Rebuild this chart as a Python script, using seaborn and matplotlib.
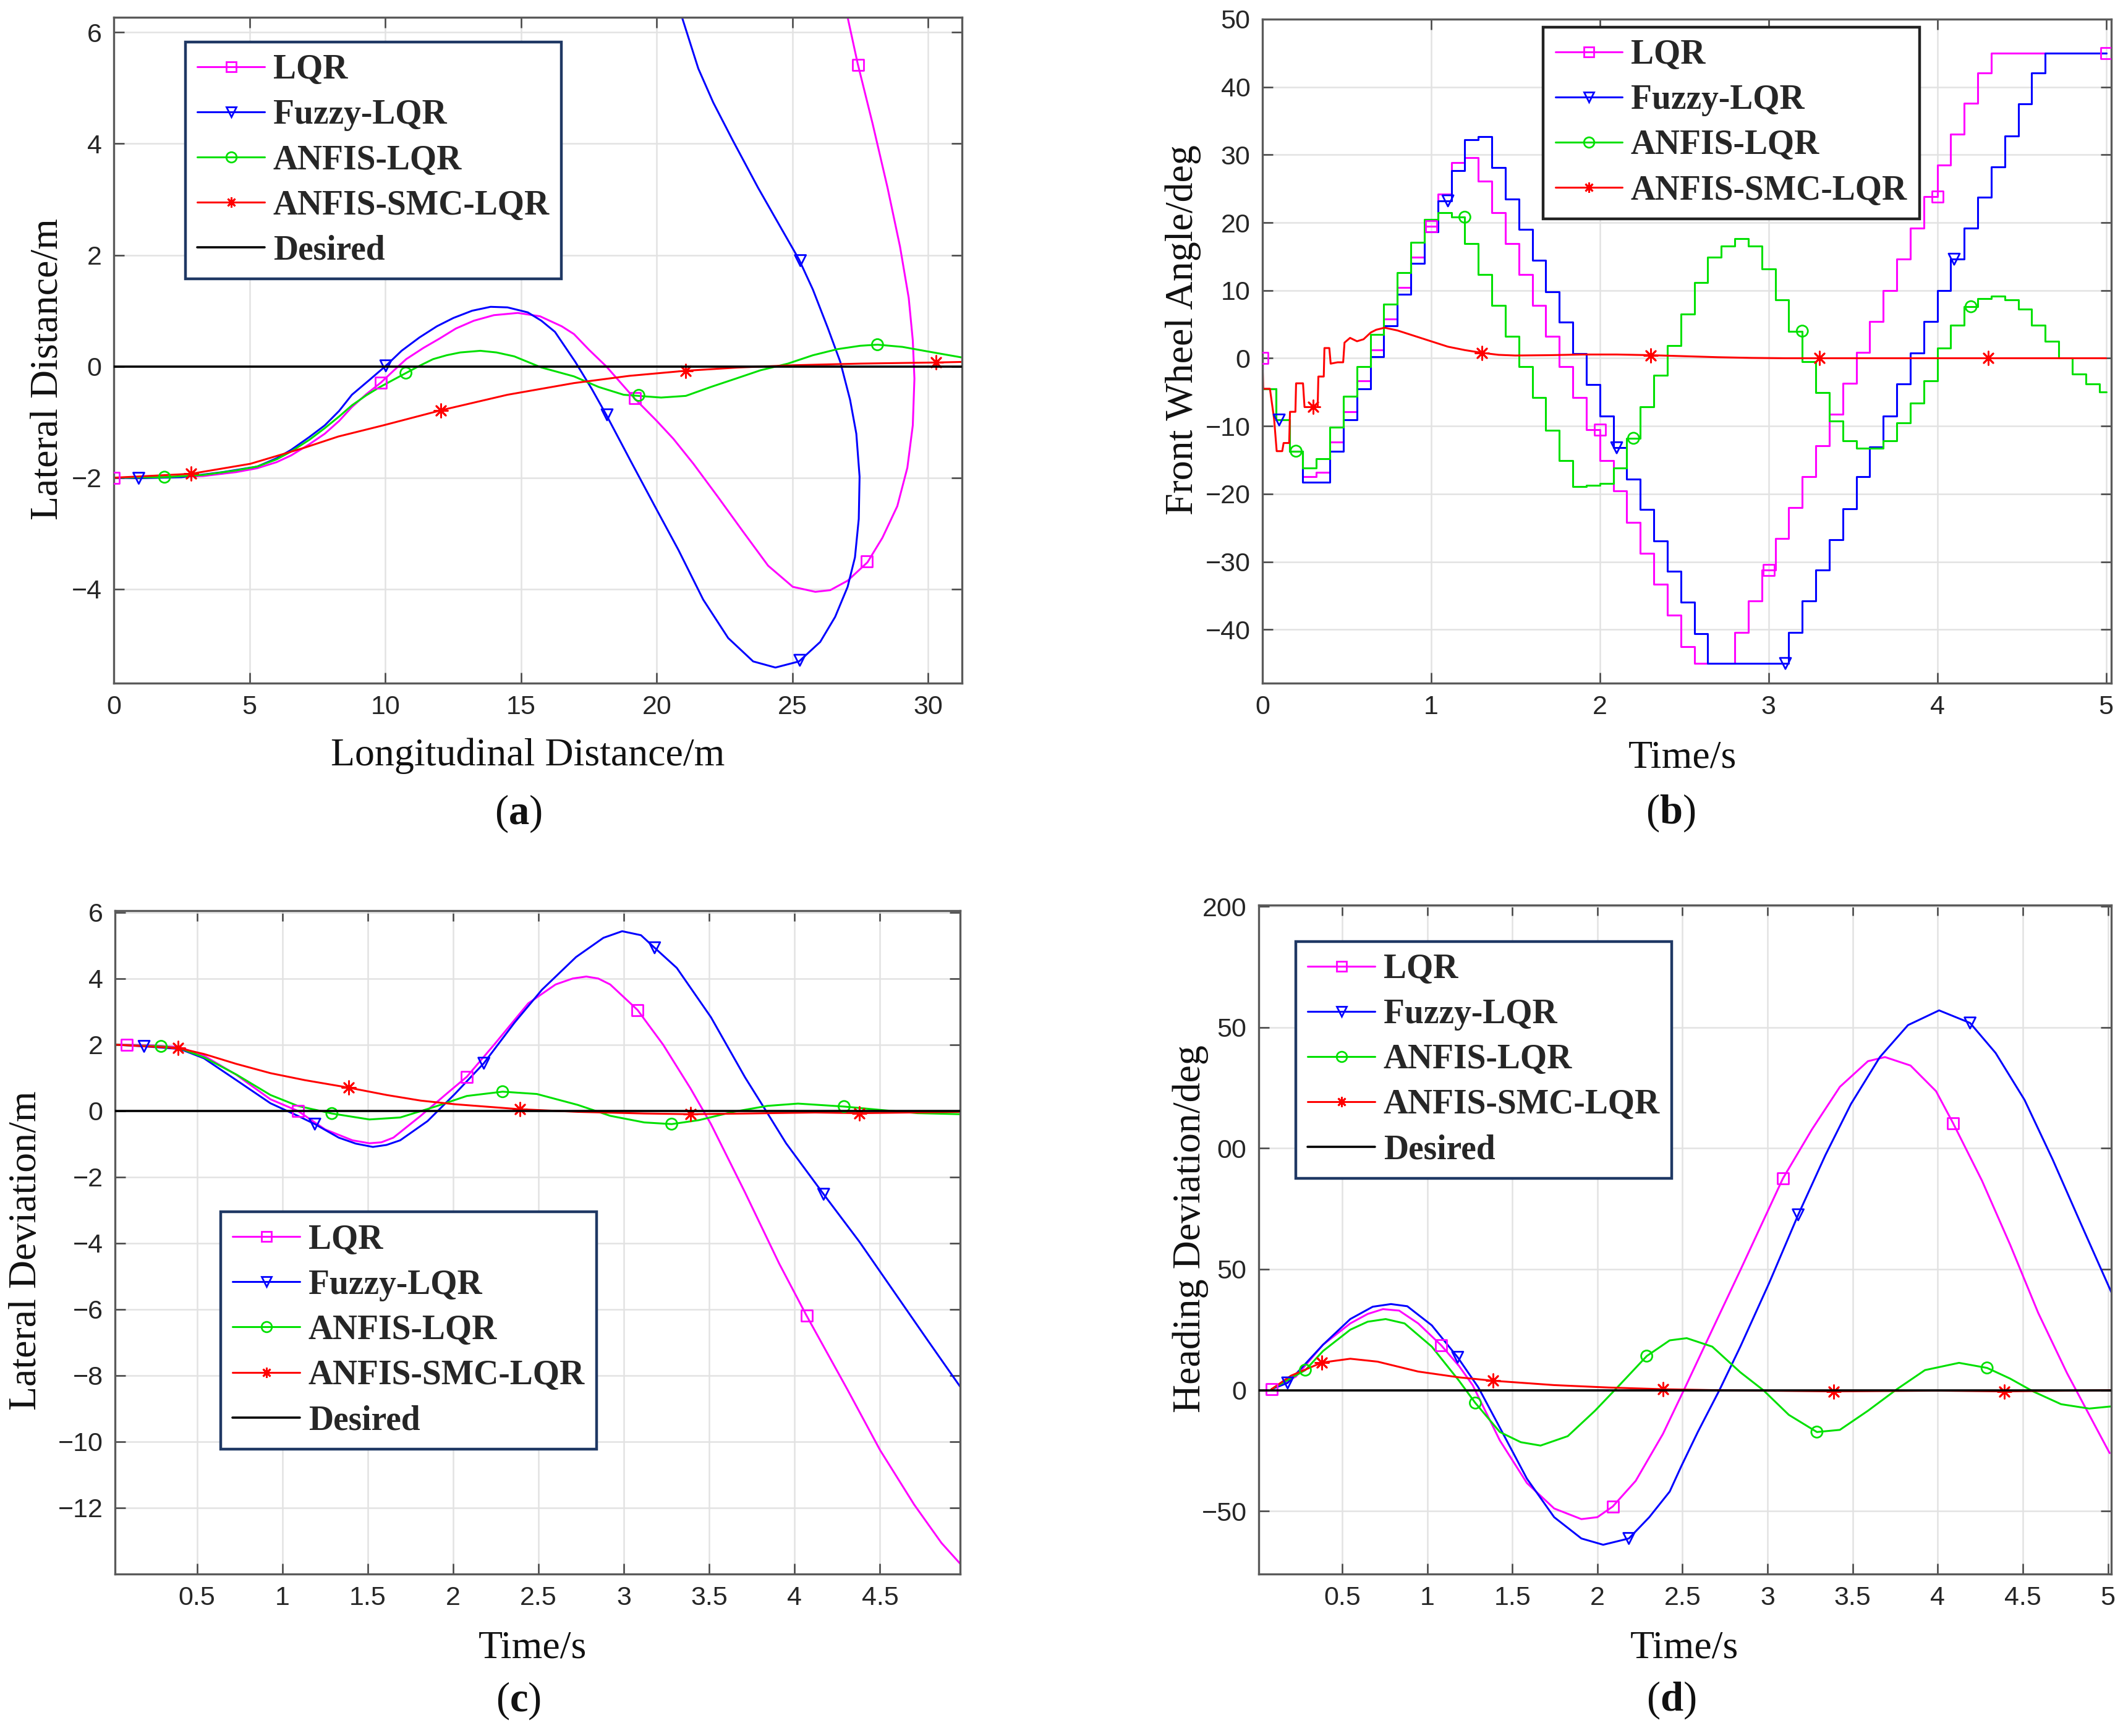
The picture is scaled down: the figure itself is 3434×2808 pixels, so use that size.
import matplotlib
matplotlib.use('Agg')
import matplotlib.pyplot as plt
from matplotlib.lines import Line2D
from matplotlib.ticker import FuncFormatter
import seaborn as sns

# ---------------- data ----------------
names = ['LQR', 'Fuzzy-LQR', 'ANFIS-LQR', 'ANFIS-SMC-LQR', 'Desired']

# (a) lateral vs longitudinal distance
a_lqr_x = [0, 2, 3.29, 4.5, 5.28, 6.0, 6.53, 7.2, 7.77, 8.3, 8.77, 9.3, 9.84, 10.3, 10.77, 11.4, 12.0, 12.6,
           13.26, 14.0, 14.88, 15.7, 16.5, 16.95, 17.5, 18.14, 19.15, 20.0, 20.61, 21.35, 22.26, 23.18, 24.1,
           25.01, 25.84, 26.39, 27.03, 27.76, 28.31, 28.86, 29.23, 29.43, 29.49, 29.43, 29.28, 28.96, 28.5,
           27.95, 27.4, 27.03]
a_lqr_y = [-2.0, -1.99, -1.97, -1.9, -1.83, -1.72, -1.6, -1.4, -1.21, -0.98, -0.73, -0.5, -0.29, -0.08, 0.13,
           0.33, 0.5, 0.68, 0.82, 0.92, 0.96, 0.9, 0.72, 0.58, 0.3, 0.0, -0.56, -0.98, -1.3, -1.75, -2.35, -2.97,
           -3.58, -3.96, -4.05, -4.02, -3.85, -3.52, -3.08, -2.51, -1.82, -1.06, -0.22, 0.47, 1.23, 2.15, 3.21,
           4.36, 5.44, 6.27]
a_fuzzy_x = [0, 0.92, 2.5, 4.0, 5.28, 6.0, 6.53, 7.2, 7.77, 8.3, 8.77, 9.4, 10.02, 10.6, 11.26, 11.9, 12.51,
             13.2, 13.88, 14.5, 15.25, 15.75, 16.25, 17.0, 17.6, 18.14, 19.06, 19.97, 20.8, 21.71, 22.63, 23.55,
             24.37, 25.24, 26.02, 26.57, 27.03, 27.3, 27.44, 27.47, 27.35, 27.12, 26.76, 26.3, 25.75, 25.24,
             24.56, 23.73, 22.81, 22.08, 21.53, 20.93]
a_fuzzy_y = [-2.0, -2.01, -1.99, -1.9, -1.8, -1.65, -1.5, -1.27, -1.06, -0.8, -0.51, -0.25, 0.01, 0.28, 0.52,
             0.72, 0.87, 1.0, 1.07, 1.06, 0.97, 0.82, 0.62, 0.08, -0.4, -0.87, -1.72, -2.55, -3.3, -4.19, -4.88,
             -5.3, -5.41, -5.3, -4.95, -4.5, -3.96, -3.43, -2.74, -1.98, -1.21, -0.6, 0.08, 0.69, 1.38, 1.92,
             2.5, 3.21, 4.05, 4.74, 5.35, 6.27]
a_anfis_x = [0, 1.87, 3.29, 4.5, 5.28, 6.0, 6.53, 7.2, 7.77, 8.3, 8.77, 9.3, 9.77, 10.3, 10.76, 11.26, 11.76,
             12.26, 12.76, 13.5, 14.1, 14.75, 15.75, 16.95, 17.86, 18.78, 19.33, 20.16, 21.07, 21.99, 22.91,
             23.82, 24.83, 25.75, 26.66, 27.49, 28.13, 29.05, 29.96, 31.24]
a_anfis_y = [-2.0, -1.99, -1.95, -1.87, -1.8, -1.67, -1.53, -1.32, -1.11, -0.9, -0.7, -0.52, -0.38, -0.24,
             -0.12, 0.01, 0.13, 0.2, 0.25, 0.28, 0.25, 0.18, -0.02, -0.18, -0.37, -0.51, -0.53, -0.56, -0.53,
             -0.37, -0.22, -0.07, 0.05, 0.2, 0.31, 0.37, 0.39, 0.35, 0.27, 0.16]
a_smc_x = [0, 2.84, 5.03, 7.03, 8.27, 9.92, 12.04, 14.5, 16.95, 18.99, 21.03, 23.0, 25.01, 27.5, 30.28, 31.24]
a_smc_y = [-2.0, -1.93, -1.75, -1.46, -1.26, -1.06, -0.79, -0.51, -0.3, -0.17, -0.08, -0.02, 0.02, 0.05, 0.07, 0.08]
a_mark_lqr = ([0, 9.84, 19.19, 27.73, 27.41], [-2.0, -0.29, -0.57, -3.5, 5.42])
a_mark_fuzzy = ([0.92, 10.02, 18.17, 25.27, 25.29], [-2.01, 0.01, -0.87, -5.28, 1.9])
a_mark_anfis = ([1.87, 10.76, 19.34, 28.13], [-1.99, -0.12, -0.52, 0.39])
a_mark_smc = ([2.84, 12.04, 21.06, 30.28], [-1.93, -0.79, -0.08, 0.07])

# (b) front wheel angle, zero-order hold every 0.08 s
b_t = [0.0, 0.08, 0.16, 0.24, 0.32, 0.4, 0.48, 0.56, 0.64, 0.72, 0.8, 0.88, 0.96, 1.04, 1.12, 1.2,
       1.28, 1.36, 1.44, 1.52, 1.6, 1.68, 1.76, 1.84, 1.92, 2.0, 2.08, 2.16, 2.24, 2.32, 2.4, 2.48,
       2.56, 2.64, 2.72, 2.8, 2.88, 2.96, 3.04, 3.12, 3.2, 3.28, 3.36, 3.44, 3.52, 3.6, 3.68, 3.76,
       3.84, 3.92, 4.0, 4.08, 4.16, 4.24, 4.32, 4.4, 4.48, 4.56, 4.64, 4.72, 4.8, 4.88, 4.96, 5.0]
b_lqr = [0, -4.5, -9.1, -13.7, -17.5, -16.8, -12.4, -7.9, -3.3, 1.2, 5.8, 10.4, 14.9, 19.5, 24.2, 28.8,
         29.6, 26.1, 21.5, 16.9, 12.3, 7.8, 3.2, -1.2, -5.8, -10.5, -15.1, -19.6, -24.2, -28.8, -33.3, -37.9,
         -42.5, -45, -45, -45, -40.4, -35.8, -31.2, -26.6, -22.0, -17.5, -12.9, -8.3, -3.7, 0.9, 5.4, 10.0,
         14.6, 19.2, 23.8, 28.5, 33.0, 37.6, 42.1, 45, 45, 45, 45, 45, 45, 45, 45, 45]
b_fuzzy = [0, -4.5, -9.1, -13.7, -18.3, -18.3, -13.7, -9.1, -4.5, 0.2, 4.8, 9.4, 14.0, 18.6, 23.2, 27.7,
           32.2, 32.7, 28.1, 23.5, 19.0, 14.4, 9.8, 5.3, 0.7, -3.9, -8.5, -13.2, -17.8, -22.3, -26.9, -31.4,
           -36.0, -40.6, -45, -45, -45, -45, -45, -45, -40.4, -35.8, -31.2, -26.8, -22.2, -17.5, -13.1, -8.5,
           -3.8, 0.8, 5.4, 10.0, 14.6, 19.2, 23.7, 28.2, 32.8, 37.5, 42.1, 45, 45, 45, 45, 45]
b_anfis = [0, -4.5, -9.1, -13.7, -16.2, -14.8, -10.2, -5.6, -1.2, 3.5, 8.0, 12.6, 17.1, 20.5, 21.5, 20.8,
           16.9, 12.3, 7.8, 3.2, -1.2, -5.8, -10.6, -15.1, -18.9, -18.7, -18.5, -16.2, -11.8, -7.2, -2.5, 1.9,
           6.5, 11.2, 14.9, 16.5, 17.6, 16.5, 13.2, 8.6, 4.0, -0.5, -5.1, -9.3, -12.2, -13.3, -13.3, -12.2,
           -9.5, -6.6, -3.3, 1.5, 4.9, 7.6, 8.8, 9.2, 8.6, 7.2, 4.9, 2.5, 0.0, -2.3, -3.8, -5.0]
b_smc_t = [0, 0.005, 0.045, 0.07, 0.085, 0.118, 0.126, 0.159, 0.164, 0.196, 0.2, 0.241, 0.25, 0.328,
           0.332, 0.364, 0.368, 0.397, 0.405, 0.446, 0.479, 0.487, 0.52, 0.561, 0.60, 0.643, 0.675, 0.725,
           0.8, 0.9, 1.0, 1.1, 1.2, 1.3, 1.4, 1.5, 1.7, 1.9, 2.1, 2.3, 2.5, 2.7, 2.9, 3.1, 4.0, 5.0]
b_smc = [0, -4.5, -4.5, -9.0, -13.7, -13.7, -12.5, -12.5, -7.9, -7.9, -3.7, -3.7, -7.2, -7.2,
         -2.7, -2.7, 1.5, 1.5, -0.8, -0.6, -0.6, 2.3, 3.0, 2.5, 2.8, 3.8, 4.2, 4.5,
         4.1, 3.3, 2.5, 1.7, 1.2, 0.8, 0.5, 0.4, 0.45, 0.55, 0.55, 0.45, 0.3, 0.15, 0.05, 0.0, 0.0, 0.0]
b_mark_lqr = ([0, 1, 2, 3, 4, 5], [0, 19.5, -10.5, -31.2, 23.8, 45])
b_mark_fuzzy = ([0.1, 1.1, 2.1, 3.1, 4.1], [-9.1, 23.2, -13.2, -45, 14.6])
b_mark_anfis = ([0.2, 1.2, 2.2, 3.2, 4.2], [-13.7, 20.8, -11.8, 4.0, 7.6])
b_mark_smc = ([0.3, 1.3, 2.3, 3.3, 4.3], [-7.2, 0.8, 0.45, 0.0, 0.0])

# (c) lateral deviation
c_lqr_t = [0.02, 0.09, 0.25, 0.40, 0.54, 0.73, 0.93, 1.09, 1.25, 1.41, 1.51, 1.58, 1.65, 1.81, 1.96, 2.08,
           2.24, 2.44, 2.6, 2.7, 2.78, 2.85, 2.92, 3.08, 3.23, 3.39, 3.51, 3.71, 3.91, 4.07, 4.31, 4.5, 4.70,
           4.86, 4.97]
c_lqr = [2.0, 2.0, 1.98, 1.92, 1.67, 1.09, 0.35, 0.0, -0.56, -0.89, -0.98, -0.95, -0.81, -0.15, 0.51, 1.03,
         2.0, 3.25, 3.82, 4.0, 4.06, 4.0, 3.82, 3.05, 2.0, 0.68, -0.4, -2.47, -4.62, -6.19, -8.43, -10.25,
         -11.9, -13.06, -13.69]
c_fuzzy_t = [0.02, 0.19, 0.40, 0.54, 0.73, 0.93, 1.09, 1.19, 1.33, 1.43, 1.53, 1.61, 1.69, 1.85, 2.01, 2.18,
             2.36, 2.52, 2.72, 2.88, 2.99, 3.1, 3.18, 3.31, 3.51, 3.71, 3.83, 3.95, 4.17, 4.38, 4.58, 4.78, 4.97]
c_fuzzy = [2.0, 1.95, 1.87, 1.59, 0.93, 0.23, -0.15, -0.4, -0.81, -0.99, -1.09, -1.03, -0.89, -0.31, 0.51,
           1.44, 2.67, 3.66, 4.65, 5.23, 5.43, 5.31, 4.93, 4.32, 2.83, 1.01, 0.02, -0.98, -2.52, -3.96, -5.45,
           -6.94, -8.34]
c_anfis_t = [0.02, 0.29, 0.40, 0.54, 0.73, 0.93, 1.09, 1.29, 1.51, 1.69, 1.89, 2.08, 2.29, 2.49, 2.73, 2.92,
             3.12, 3.28, 3.44, 3.64, 3.84, 4.02, 4.29, 4.52, 4.72, 4.97]
c_anfis = [2.0, 1.95, 1.89, 1.62, 1.1, 0.48, 0.15, -0.08, -0.26, -0.2, 0.12, 0.45, 0.58, 0.51, 0.18, -0.15,
           -0.35, -0.4, -0.28, -0.03, 0.15, 0.22, 0.13, 0.02, -0.07, -0.1]
c_smc_t = [0.02, 0.39, 0.54, 0.73, 0.93, 1.13, 1.39, 1.61, 1.81, 2.01, 2.39, 2.73, 3.12, 3.39, 3.72, 4.12, 4.38, 4.97]
c_smc = [2.0, 1.9, 1.72, 1.42, 1.14, 0.93, 0.7, 0.48, 0.31, 0.2, 0.05, -0.03, -0.08, -0.1, -0.08, -0.05, -0.07, -0.03]
c_mark_lqr = ([0.09, 1.09, 2.08, 3.08, 4.07], [2.0, 0.0, 1.03, 3.05, -6.19])
c_mark_fuzzy = ([0.19, 1.19, 2.18, 3.18, 4.17], [1.95, -0.4, 1.44, 4.93, -2.52])
c_mark_anfis = ([0.29, 1.29, 2.29, 3.28, 4.29], [1.95, -0.08, 0.58, -0.4, 0.13])
c_mark_smc = ([0.39, 1.39, 2.39, 3.39, 4.38], [1.9, 0.7, 0.05, -0.1, -0.07])

# (d) heading deviation
d_lqr_t = [0.085, 0.228, 0.388, 0.548, 0.65, 0.74, 0.835, 0.947, 1.083, 1.187, 1.267, 1.427, 1.586, 1.746,
           1.906, 2.0, 2.09, 2.225, 2.385, 2.508, 2.675, 2.84, 3.09, 3.26, 3.425, 3.59, 3.69, 3.84, 3.99, 4.09,
           4.26, 4.425, 4.59, 4.76, 5.01]
d_lqr = [0.4, 5.6, 18.8, 27.6, 31.5, 33.5, 32.9, 27.6, 18.5, 10, 2.1, -20.8, -38.4, -48.9,
         -53.3, -52.5, -48.1, -37.5, -18.1, 0, 25, 49.6, 87.5, 107.7, 125.4, 136, 137.7, 134.2, 123.6, 110.4,
         86.6, 60.2, 32, 7, -26]
d_fuzzy_t = [0.085, 0.18, 0.388, 0.548, 0.68, 0.787, 0.883, 1.027, 1.179, 1.3, 1.427, 1.586, 1.746, 1.906,
             2.034, 2.185, 2.305, 2.425, 2.494, 2.59, 2.717, 2.84, 3.01, 3.18, 3.34, 3.49, 3.66, 3.825, 4.008,
             4.19, 4.34, 4.51, 4.675, 4.84, 5.02]
d_fuzzy = [0.4, 3.0, 18.8, 29.4, 34.5, 35.6, 34.7, 26.8, 13.6, 1.2, -15.5, -36.6, -52.5, -61.3,
           -63.9, -61.3, -52.5, -41.9, -31.3, -17.3, 0, 18, 44.4, 72.5, 97.2, 118.3, 137.7, 150.9, 157,
           151.8, 139.4, 120, 95.4, 69, 40.5]
d_anfis_t = [0.085, 0.284, 0.388, 0.548, 0.65, 0.756, 0.867, 1.027, 1.187, 1.283, 1.427, 1.55, 1.666, 1.826,
             1.986, 2.13, 2.29, 2.425, 2.525, 2.675, 2.84, 2.975, 3.125, 3.29, 3.425, 3.59, 3.76, 3.925, 4.125,
             4.29, 4.425, 4.56, 4.725, 4.89, 5.02]
d_anfis = [0.4, 8.3, 16.2, 25, 28.3, 29.4, 27.6, 18, 3.9, -5.3, -17.3, -21.5, -22.9, -19,
           -8.5, 2.1, 14.1, 20.6, 21.5, 18, 7.4, 0, -10.2, -17.3, -16.4, -8.5, 0.4, 8.3, 11.3,
           9.2, 4.8, -0.5, -5.8, -7.6, -6.7]
d_smc_t = [0.085, 0.2, 0.38, 0.548, 0.708, 0.947, 1.187, 1.387, 1.746, 2.066, 2.385, 2.7, 3.39, 4.0, 4.39, 5.02]
d_smc = [0.4, 6.0, 11.4, 13.0, 11.8, 7.7, 5.3, 3.9, 2.1, 1.1, 0.4, 0.0, -0.5, -0.2, -0.5, 0.0]
d_mark_lqr = ([0.085, 1.083, 2.09, 3.09, 4.09], [0.4, 18.5, -48.1, 87.5, 110.4])
d_mark_fuzzy = ([0.18, 1.179, 2.185, 3.18, 4.19], [3.0, 13.6, -61.3, 72.5, 151.8])
d_mark_anfis = ([0.284, 1.283, 2.29, 3.29, 4.29], [8.3, -5.3, 14.1, -17.3, 9.2])
d_mark_smc = ([0.38, 1.387, 2.385, 3.39, 4.39], [11.4, 3.9, 0.4, -0.5, -0.5])
d_ytick_labels = ['\u221250', '0', '50', '00', '50', '200']

# ---------------- style ----------------
sns.set_theme(style='ticks')
plt.rcParams['font.family'] = ['Liberation Sans', 'DejaVu Sans']
plt.rcParams['mathtext.fontset'] = 'custom'
plt.rcParams['mathtext.rm'] = 'Liberation Serif'
plt.rcParams['mathtext.bf'] = 'Liberation Serif:bold'

colors = ['#ff00ff', '#0000ff', '#00e000', '#ff0000', '#000000']
markers = ['s', 'v', 'o', (8, 2, 0), None]
LW = 1.1
SERIF = 'Liberation Serif'

fig = plt.figure(figsize=(17.17, 14.04), dpi=200)
ax_a = fig.add_axes([0.0536, 0.6065, 0.3995, 0.3835])
ax_b = fig.add_axes([0.5946, 0.6065, 0.3998, 0.3825])
ax_c = fig.add_axes([0.0542, 0.0933, 0.3981, 0.3821])
ax_d = fig.add_axes([0.5929, 0.0933, 0.4016, 0.3853])

fmt = FuncFormatter(lambda v, p: f'{v:g}'.replace('-', '\u2212'))


def curve(ax, x, y, i, **kw):
    sns.lineplot(x=x, y=y, ax=ax, color=colors[i], lw=LW, sort=False, estimator=None, **kw)


def marks(ax, pts, i):
    if i == 3:
        sns.scatterplot(x=pts[0], y=pts[1], ax=ax, marker=markers[i], s=60, color=colors[i],
                        edgecolor=colors[i], linewidth=1.0, zorder=5)
    else:
        sns.scatterplot(x=pts[0], y=pts[1], ax=ax, marker=markers[i], s=42, color=colors[i],
                        facecolor='none', edgecolor=colors[i], linewidth=1.0, zorder=5)


def desired(ax, x0, x1):
    sns.lineplot(x=[x0, x1], y=[0, 0], ax=ax, color='black', lw=1.3, zorder=6)


def legend(ax, anchor, n, edge):
    handles = []
    for i in range(n):
        if markers[i] is None:
            handles.append(Line2D([0], [0], color=colors[i], lw=1.3))
        else:
            handles.append(Line2D([0], [0], color=colors[i], lw=LW, marker=markers[i], ms=6,
                                  mfc='none' if i < 3 else colors[i], mec=colors[i], mew=1.0))
    leg = ax.legend(handles, names[:n], loc='upper left', bbox_to_anchor=anchor, borderaxespad=0,
                    prop={'family': SERIF, 'weight': 'bold', 'size': 20}, handlelength=1.95,
                    handletextpad=0.25, labelspacing=0.38, borderpad=0.35, fancybox=False,
                    framealpha=1, edgecolor=edge)
    leg.get_frame().set_linewidth(1.6)
    leg.set_zorder(10)


def finish(ax, xlim, ylim, xticks, yticks, xlabel, ylabel, xl, yl, tag, tp):
    ax.set_xlim(xlim)
    ax.set_ylim(ylim)
    ax.set_xticks(xticks)
    ax.set_yticks(yticks)
    ax.xaxis.set_major_formatter(fmt)
    ax.yaxis.set_major_formatter(fmt)
    ax.grid(True, color='#e2e2e2', lw=0.9)
    ax.set_axisbelow(True)
    ax.tick_params(direction='in', length=6, width=0.9, color='#444444', top=True, right=True,
                   labelsize=15.5, labelcolor='#262626', pad=7)
    for s in ax.spines.values():
        s.set_color('#5a5a5a')
        s.set_linewidth(1.2)
    ax.set_xlabel(xlabel, family=SERIF, fontsize=23, va='center', color='#111111')
    ax.xaxis.set_label_coords(*xl)
    ax.set_ylabel(ylabel, family=SERIF, fontsize=23, va='center', color='#111111')
    ax.yaxis.set_label_coords(*yl)
    ax.text(tp[0], tp[1], r'($\mathbf{' + tag + '}$)', transform=ax.transAxes, ha='center', va='center',
            family=SERIF, fontsize=24, color='#111111')


# ---------------- (a) ----------------
curve(ax_a, a_lqr_x, a_lqr_y, 0)
curve(ax_a, a_fuzzy_x, a_fuzzy_y, 1)
curve(ax_a, a_anfis_x, a_anfis_y, 2)
curve(ax_a, a_smc_x, a_smc_y, 3)
for i, m in enumerate([a_mark_lqr, a_mark_fuzzy, a_mark_anfis, a_mark_smc]):
    marks(ax_a, m, i)
desired(ax_a, 0, 31.24)
finish(ax_a, (0, 31.24), (-5.69, 6.27), [0, 5, 10, 15, 20, 25, 30], [-4, -2, 0, 2, 4, 6],
       'Longitudinal Distance/m', 'Lateral Distance/m', (0.488, -0.109), (-0.078, 0.472), 'a', (0.477, -0.196))
legend(ax_a, (0.0845, 0.963), 5, '#1f3864')

# ---------------- (b) ----------------
curve(ax_b, b_t, b_lqr, 0, drawstyle='steps-pre')
curve(ax_b, b_t, b_fuzzy, 1, drawstyle='steps-pre')
curve(ax_b, b_t, b_anfis, 2, drawstyle='steps-pre')
curve(ax_b, b_smc_t, b_smc, 3)
for i, m in enumerate([b_mark_lqr, b_mark_fuzzy, b_mark_anfis, b_mark_smc]):
    marks(ax_b, m, i)
finish(ax_b, (0, 5.03), (-47.9, 50), [0, 1, 2, 3, 4, 5], [-40, -30, -20, -10, 0, 10, 20, 30, 40, 50],
       'Time/s', 'Front Wheel Angle/deg', (0.495, -0.113), (-0.093, 0.532), 'b', (0.481, -0.196))
legend(ax_b, (0.331, 0.988), 4, '#222222')

# ---------------- (c) ----------------
curve(ax_c, c_lqr_t, c_lqr, 0)
curve(ax_c, c_fuzzy_t, c_fuzzy, 1)
curve(ax_c, c_anfis_t, c_anfis, 2)
curve(ax_c, c_smc_t, c_smc, 3)
for i, m in enumerate([c_mark_lqr, c_mark_fuzzy, c_mark_anfis, c_mark_smc]):
    marks(ax_c, m, i)
desired(ax_c, 0.02, 4.97)
finish(ax_c, (0.02, 4.97), (-14.0, 6.05), [0.5, 1, 1.5, 2, 2.5, 3, 3.5, 4, 4.5],
       [-12, -10, -8, -6, -4, -2, 0, 2, 4, 6],
       'Time/s', 'Lateral Deviation/m', (0.494, -0.112), (-0.105, 0.488), 'c', (0.477, -0.191))
legend(ax_c, (0.125, 0.546), 5, '#1f3864')

# ---------------- (d) ----------------
curve(ax_d, d_lqr_t, d_lqr, 0)
curve(ax_d, d_fuzzy_t, d_fuzzy, 1)
curve(ax_d, d_anfis_t, d_anfis, 2)
curve(ax_d, d_smc_t, d_smc, 3)
for i, m in enumerate([d_mark_lqr, d_mark_fuzzy, d_mark_anfis, d_mark_smc]):
    marks(ax_d, m, i)
desired(ax_d, 0.01, 5.02)
finish(ax_d, (0.01, 5.02), (-76, 200.5), [0.5, 1, 1.5, 2, 2.5, 3, 3.5, 4, 4.5, 5],
       [-50, 0, 50, 100, 150, 200],
       'Time/s', 'Heading Deviation/deg', (0.499, -0.111), (-0.080, 0.516), 'd', (0.484, -0.189))
ax_d.set_yticklabels(d_ytick_labels)
legend(ax_d, (0.0435, 0.946), 5, '#1f3864')

fig.savefig('out.png', dpi=200, facecolor='white')
